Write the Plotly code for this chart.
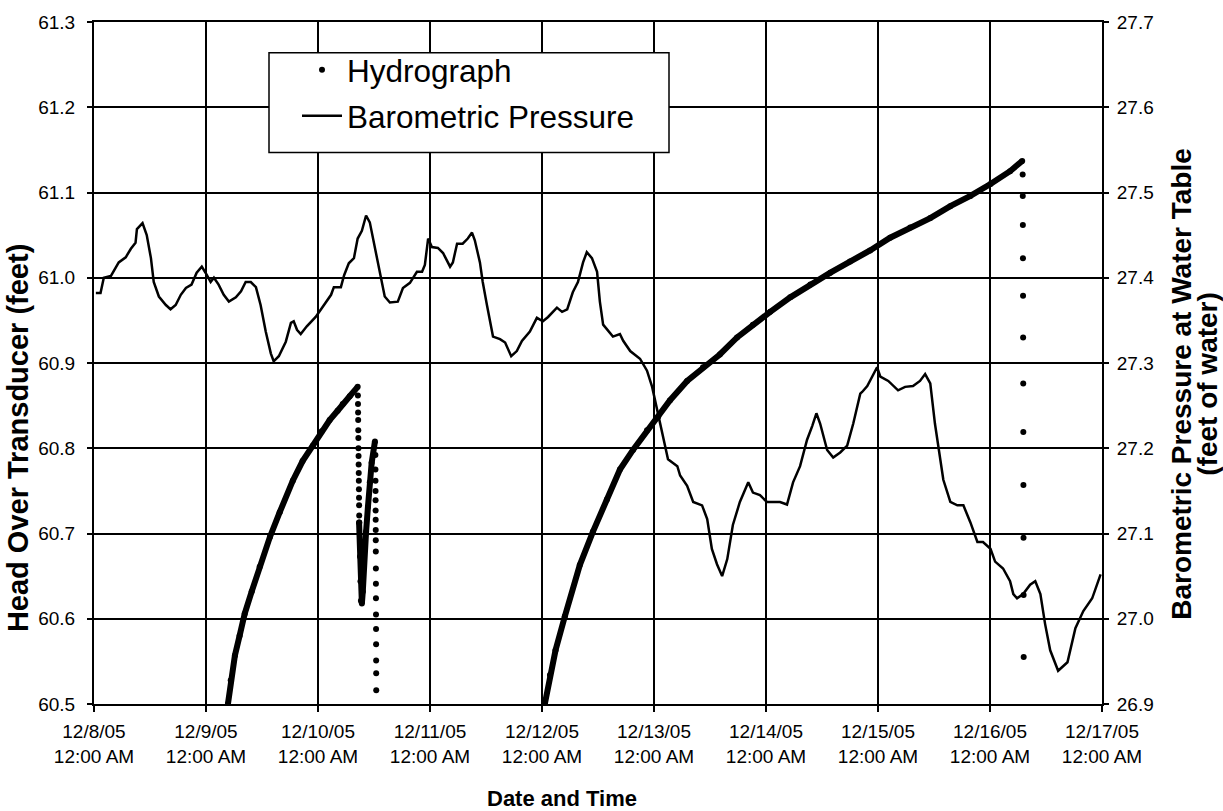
import pandas as pd
import plotly.graph_objects as go

START = pd.Timestamp("2005-12-08 00:00")

# Barometric pressure at the water table (feet of water), hours since start
baro_hours = [0.4, 1.4, 2.1, 3.6, 5.3, 6.8, 7.9, 8.9, 9.2, 10.4, 11.3, 12.2, 12.8, 13.9, 15.4,
              16.4, 17.5, 18.6, 19.7, 20.9, 22.0, 23.1, 24.2, 25.0, 25.7, 26.7, 27.8, 28.9,
              30.4, 31.5, 32.5, 33.6, 34.7, 35.7, 36.8, 37.9, 38.5, 39.6, 41.1, 42.2, 42.8,
              43.5, 44.3, 45.6, 47.5, 49.3, 50.8, 51.4, 52.9, 53.6, 54.6, 55.7, 56.5, 57.4,
              58.3, 59.1, 59.8, 60.9, 61.7, 62.3, 63.4, 65.1, 66.2, 67.7, 69.2, 70.3, 70.9,
              71.6, 72.4, 73.7, 74.8, 76.3, 76.9, 77.8, 79.0, 80.1, 81.0, 81.6, 82.7, 83.3,
              84.2, 85.5, 87.0, 88.1, 89.4, 90.6, 91.7, 93.4, 94.9, 96.2, 97.3, 99.2, 100.3,
              101.4, 102.6, 103.7, 104.8, 105.6, 106.7, 107.8, 108.4, 109.1, 111.2, 112.7,
              113.4, 114.9, 117.0, 118.5, 119.6, 120.7, 121.7, 123.0, 125.0, 125.6, 127.1,
              128.4, 130.3, 131.4, 132.4, 133.5, 134.6, 135.7, 136.9, 138.4, 140.2, 141.2,
              142.7, 144.2, 145.5, 147.0, 148.5, 149.8, 151.3, 152.8, 153.9, 154.8, 155.6,
              157.1, 158.4, 159.9, 161.4, 162.7, 164.2, 164.6, 165.7, 166.8, 167.8, 168.5,
              170.2, 172.3, 173.8, 175.5, 177.0, 178.1, 179.2, 180.2, 181.3, 182.0, 183.5,
              185.0, 186.3, 187.8, 189.3, 190.5, 192.1, 193.1, 194.8, 196.3, 197.0, 197.8,
              199.1, 200.6, 201.7, 202.8, 203.8, 204.9, 206.6, 208.6, 210.3, 212.0, 213.9,
              215.7]
baro_ft = [27.382, 27.382, 27.400, 27.402, 27.418, 27.424, 27.434, 27.441, 27.457, 27.464,
           27.450, 27.423, 27.395, 27.378, 27.368, 27.363, 27.368, 27.380, 27.388, 27.392,
           27.406, 27.413, 27.403, 27.395, 27.400, 27.392, 27.380, 27.372, 27.377, 27.384,
           27.395, 27.395, 27.389, 27.368, 27.337, 27.311, 27.302, 27.308, 27.325, 27.347,
           27.349, 27.339, 27.334, 27.343, 27.354, 27.368, 27.380, 27.389, 27.389, 27.403,
           27.417, 27.423, 27.446, 27.455, 27.473, 27.465, 27.446, 27.418, 27.392, 27.378,
           27.371, 27.372, 27.388, 27.394, 27.407, 27.407, 27.415, 27.446, 27.436, 27.435,
           27.429, 27.413, 27.418, 27.440, 27.440, 27.446, 27.453, 27.444, 27.418, 27.395,
           27.368, 27.331, 27.328, 27.324, 27.308, 27.314, 27.326, 27.337, 27.353, 27.349,
           27.354, 27.365, 27.360, 27.363, 27.383, 27.395, 27.418, 27.430, 27.423, 27.407,
           27.372, 27.345, 27.331, 27.334, 27.326, 27.314, 27.305, 27.291, 27.272, 27.244,
           27.218, 27.187, 27.179, 27.168, 27.156, 27.137, 27.133, 27.117, 27.082, 27.064,
           27.050, 27.070, 27.110, 27.137, 27.160, 27.148, 27.145, 27.137, 27.137, 27.137,
           27.134, 27.160, 27.179, 27.210, 27.226, 27.241, 27.229, 27.198, 27.189, 27.195,
           27.203, 27.229, 27.264, 27.266, 27.273, 27.284, 27.295, 27.284, 27.279, 27.268,
           27.272, 27.273, 27.279, 27.287, 27.276, 27.229, 27.191, 27.163, 27.137, 27.133,
           27.133, 27.113, 27.090, 27.090, 27.082, 27.067, 27.059, 27.044, 27.029, 27.024,
           27.029, 27.040, 27.044, 27.029, 26.994, 26.963, 26.939, 26.949, 26.989, 27.009,
           27.024, 27.052]

# Head over transducer (feet): first recovery record
rec1_hours = [28.7, 29.3, 30.2, 31.2, 32.3, 33.8, 35.5, 37.7, 39.8, 42.6, 44.7, 46.9, 48.8,
              50.5, 52.2, 53.3, 54.8, 56.5]
rec1_head = [60.500, 60.528, 60.557, 60.580, 60.606, 60.632, 60.661, 60.696, 60.725, 60.762,
             60.785, 60.803, 60.820, 60.833, 60.844, 60.852, 60.861, 60.872]

# first drawdown readings
drop1_hours = [56.55, 56.57, 56.59, 56.61, 56.63, 56.65, 56.67, 56.69, 56.71, 56.73, 56.75,
               56.77, 56.79, 56.81, 56.83, 56.85]
drop1_head = [60.862, 60.852, 60.842, 60.833, 60.821, 60.812, 60.800, 60.791, 60.781, 60.771,
              60.762, 60.752, 60.742, 60.733, 60.721, 60.713]

# short rebound record
rec2_hours = [56.8, 57.0, 57.1, 57.2, 57.4, 57.6, 57.8, 58.3, 58.7, 59.1, 59.5, 60.2]
rec2_head = [60.713, 60.673, 60.644, 60.621, 60.618, 60.632, 60.667, 60.702, 60.731, 60.760,
             60.783, 60.808]

# second drawdown readings
drop2_hours = [60.30, 60.31, 60.32, 60.33, 60.34, 60.35, 60.36, 60.37, 60.38, 60.39, 60.40,
               60.41, 60.42, 60.43, 60.44, 60.45, 60.46, 60.47, 60.48]
drop2_head = [60.792, 60.775, 60.762, 60.750, 60.739, 60.727, 60.716, 60.704, 60.692, 60.679,
              60.659, 60.641, 60.624, 60.605, 60.588, 60.570, 60.551, 60.536, 60.516]

# second recovery record
rec3_hours = [96.6, 97.7, 98.9, 100.9, 104.1, 106.9, 109.9, 112.7, 115.5, 118.5, 120.9, 123.4,
              127.1, 130.5, 134.1, 137.8, 141.2, 144.9, 149.2, 153.5, 157.8, 162.0, 166.3,
              170.6, 174.9, 179.2, 183.5, 187.8, 192.1, 196.3, 198.9]
rec3_head = [60.500, 60.534, 60.563, 60.603, 60.663, 60.702, 60.740, 60.775, 60.798, 60.821,
             60.837, 60.856, 60.879, 60.895, 60.910, 60.930, 60.945, 60.960, 60.977, 60.992,
             61.006, 61.019, 61.032, 61.047, 61.059, 61.070, 61.084, 61.096, 61.110, 61.125,
             61.137]

# third drawdown readings
drop3_hours = [199.00, 199.02, 199.04, 199.06, 199.08, 199.10, 199.12, 199.14, 199.16, 199.18,
               199.20, 199.22]
drop3_head = [61.121, 61.096, 61.062, 61.023, 60.979, 60.930, 60.876, 60.819, 60.757, 60.695,
              60.628, 60.555]

day_ticks = ["2005-12-08", "2005-12-09", "2005-12-10", "2005-12-11", "2005-12-12",
             "2005-12-13", "2005-12-14", "2005-12-15", "2005-12-16", "2005-12-17"]
day_labels = ["12/8/05", "12/9/05", "12/10/05", "12/11/05", "12/12/05",
              "12/13/05", "12/14/05", "12/15/05", "12/16/05", "12/17/05"]
head_ticks = [60.5, 60.6, 60.7, 60.8, 60.9, 61.0, 61.1, 61.2, 61.3]
baro_ticks = [26.9, 27.0, 27.1, 27.2, 27.3, 27.4, 27.5, 27.6, 27.7]


def to_time(hours):
    return START + pd.to_timedelta(hours, unit="h")


FONT = "Liberation Sans, Arial, sans-serif"
fig = go.Figure()

# dense logger records drawn as a thick run of points
for hrs, vals in [(rec1_hours, rec1_head), (rec2_hours, rec2_head), (rec3_hours, rec3_head)]:
    fig.add_trace(go.Scatter(
        x=to_time(hrs), y=vals, mode="lines+markers",
        line=dict(color="black", width=6), marker=dict(color="black", size=6),
        showlegend=False, legendgroup="hyd", hoverinfo="skip"))

# sparse readings as separate dots
for i, (hrs, vals) in enumerate([(drop1_hours, drop1_head), (drop2_hours, drop2_head),
                                 (drop3_hours, drop3_head)]):
    fig.add_trace(go.Scatter(
        x=to_time(hrs), y=vals, mode="markers", name="Hydrograph",
        marker=dict(color="black", size=6), legendgroup="hyd",
        showlegend=(i == 0), legendrank=1))

fig.add_trace(go.Scatter(
    x=to_time(baro_hours), y=baro_ft, mode="lines", name="Barometric Pressure",
    line=dict(color="black", width=2.5), yaxis="y2", legendgroup="baro", legendrank=2))

# plot area in pixels: x 94..1102, y 14..704
PL, PR, PT, PB = 94, 1102, 14, 704
W, H = 1223, 811


def px_x(x):
    return (x - PL) / (PR - PL)


def px_y(y):
    return (PB - y) / (PB - PT)


tick_text = [f"{d}<br>12:00 AM" for d in day_labels]

fig.update_layout(
    width=W, height=H,
    margin=dict(l=PL, r=W - PR, t=PT, b=H - PB),
    paper_bgcolor="white", plot_bgcolor="white",
    font=dict(family=FONT, color="black", size=19),
    showlegend=True,
    legend=dict(x=px_x(297), y=px_y(35), xanchor="left", yanchor="top",
                bgcolor="rgba(0,0,0,0)", borderwidth=0,
                font=dict(size=31.5, family=FONT, color="black"),
                tracegroupgap=2, itemwidth=40),
    xaxis=dict(type="date", range=[day_ticks[0], day_ticks[-1]],
               tickmode="array", tickvals=day_ticks, ticktext=tick_text,
               showgrid=True, gridcolor="black", gridwidth=1.5,
               showline=True, linecolor="black", linewidth=2, mirror=True,
               ticks="outside", ticklen=6, tickcolor="black", tickwidth=1.5,
               tickfont=dict(size=19), zeroline=False, ticklabelstandoff=3),
    yaxis=dict(range=[60.5, 61.3], tickmode="array", tickvals=head_ticks,
               ticktext=[f"{v:.1f}" for v in head_ticks],
               showgrid=True, gridcolor="black", gridwidth=1.5,
               showline=True, linecolor="black", linewidth=2, mirror=True,
               ticks="outside", ticklen=5, tickcolor="black", tickwidth=1.5,
               tickfont=dict(size=19), zeroline=False, ticklabelstandoff=8),
    yaxis2=dict(range=[26.9, 27.7], overlaying="y", side="right",
                tickmode="array", tickvals=baro_ticks,
                ticktext=[f"{v:.1f}" for v in baro_ticks],
                showgrid=False, showline=True, linecolor="black", linewidth=2,
                ticks="outside", ticklen=5, tickcolor="black", tickwidth=1.5,
                tickfont=dict(size=19), zeroline=False, ticklabelstandoff=4),
    shapes=[dict(type="rect", xref="paper", yref="paper",
                 x0=px_x(269), x1=px_x(669), y0=px_y(146), y1=px_y(45),
                 line=dict(color="black", width=1.5), fillcolor="white", layer="above")],
    annotations=[
        dict(text="<b>Head Over Transducer (feet)</b>", xref="paper", yref="paper",
             x=px_x(18), y=px_y(435), textangle=-90, showarrow=False,
             font=dict(size=29, family=FONT), xanchor="center", yanchor="middle"),
        dict(text="<b>Barometric Pressure at Water Table</b>", xref="paper", yref="paper",
             x=px_x(1182), y=px_y(380), textangle=-90, showarrow=False,
             font=dict(size=28, family=FONT), xanchor="center", yanchor="middle"),
        dict(text="<b>(feet of water)</b>", xref="paper", yref="paper",
             x=px_x(1208), y=px_y(380), textangle=-90, showarrow=False,
             font=dict(size=28, family=FONT), xanchor="center", yanchor="middle"),
        dict(text="<b>Date and Time</b>", xref="paper", yref="paper",
             x=px_x(562), y=px_y(800), showarrow=False,
             font=dict(size=22, family=FONT), xanchor="center", yanchor="middle"),
    ],
)

fig.write_html("out.html")
